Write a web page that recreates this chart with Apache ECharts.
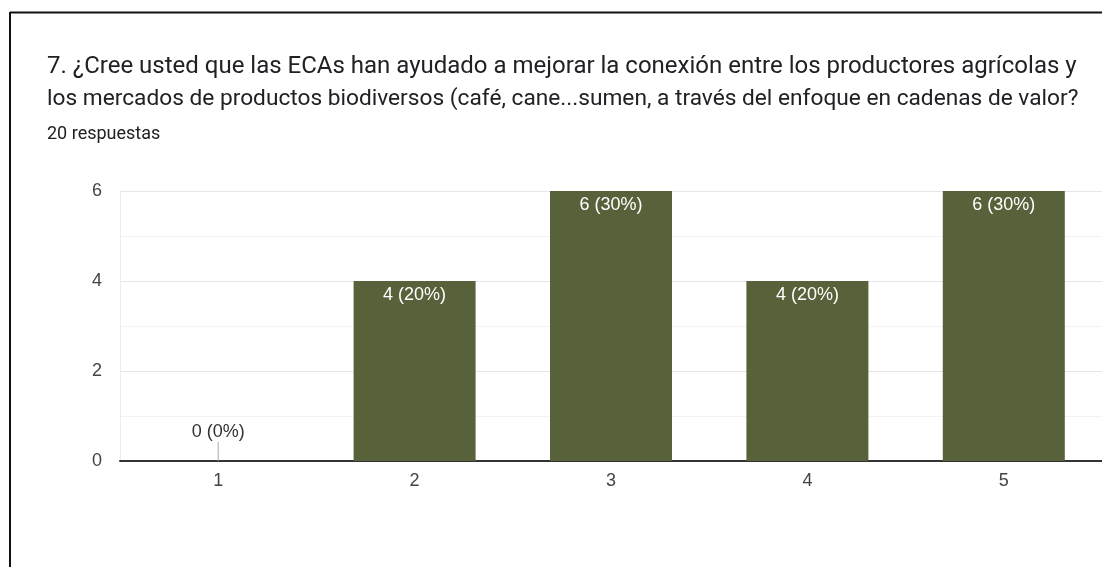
<!DOCTYPE html>
<html>
<head>
<meta charset="utf-8">
<script src="https://cdn.jsdelivr.net/npm/echarts@6/dist/echarts.min.js"></script>
<style>
  html, body { margin: 0; padding: 0; background: #fff; }
  #chart { width: 1102px; height: 567px; }
</style>
</head>
<body>
<div id="chart"></div>
<script>
const TITLE_1 = '7. ¿Cree usted que las ECAs han ayudado a mejorar la conexión entre los productores agrícolas y'
const TITLE_2 = 'los mercados de productos biodiversos (café, cane...sumen, a través del enfoque en cadenas de valor?'
const SUBTITLE = '20 respuestas'

const categories = ['1', '2', '3', '4', '5']
const counts = [0, 4, 6, 4, 6]
const total = 20
const yTicks = [0, 2, 4, 6]

const BAR = '#57613a'
const AXIS_FONT = '"Liberation Sans", Arial, sans-serif'
const label = (v) => `${v} (${Math.round((v / total) * 100)}%)`

const chart = echarts.init(document.getElementById('chart'))

chart.setOption({
  animation: false,
  textStyle: { fontFamily: AXIS_FONT },
  graphic: [
    // card border (left + top edges visible)
    { type: 'line', shape: { x1: 10, y1: 12.5, x2: 1110, y2: 12.5 }, style: { stroke: '#111', lineWidth: 2 } },
    { type: 'line', shape: { x1: 10, y1: 12, x2: 10, y2: 600 }, style: { stroke: '#111', lineWidth: 2 } },
    { type: 'text', left: 47, top: 55, style: { text: TITLE_1, fontSize: 24, fill: '#202124', fontFamily: 'Roboto' } },
    { type: 'text', left: 47, top: 88, style: { text: TITLE_2, fontSize: 22.7, fill: '#202124', fontFamily: 'Roboto' } },
    { type: 'text', left: 47, top: 125, style: { text: SUBTITLE, fontSize: 18, fill: '#202124', fontFamily: 'Roboto' } },
  ],
  grid: { left: 120, right: -6, top: 191, bottom: 106 },
  xAxis: [
    {
      type: 'category',
      data: categories,
      axisTick: { show: false },
      axisLine: { lineStyle: { color: '#333', width: 2 } },
      axisLabel: { color: '#444', fontSize: 18, margin: 11 },
    },
    // hidden twin axis so the zero stub doesn't shift the main bars
    { type: 'category', data: categories, show: false },
  ],
  yAxis: {
    type: 'value',
    min: yTicks[0],
    max: yTicks[yTicks.length - 1],
    interval: 2,
    axisLine: { show: true, lineStyle: { color: '#ececec' } },
    axisTick: { show: false },
    axisLabel: { color: '#444', fontSize: 18, margin: 18 },
    splitLine: { lineStyle: { color: '#e6e6e6' } },
    minorTick: { show: false, splitNumber: 2 },
    minorSplitLine: { show: true, lineStyle: { color: '#f3f3f3' } },
  },
  series: [
    {
      type: 'bar',
      data: counts,
      barWidth: 122,
      itemStyle: { color: BAR },
      label: {
        show: true,
        position: 'insideTop',
        distance: 5,
        color: '#fff',
        fontSize: 18,
        formatter: (p) => (p.value > 0 ? label(p.value) : ''),
      },
    },
    {
      // grey stub for zero-valued answers
      type: 'bar',
      xAxisIndex: 1,
      data: counts.map((v) => (v === 0 ? 0 : '-')),
      barWidth: 1,
      barMinHeight: 19,
      itemStyle: { color: '#a8a8a8' },
      label: {
        show: true,
        position: 'top',
        distance: 1,
        color: '#333',
        fontSize: 18,
        formatter: (p) => label(p.value),
      },
    },
  ],
})
</script>
</body>
</html>
